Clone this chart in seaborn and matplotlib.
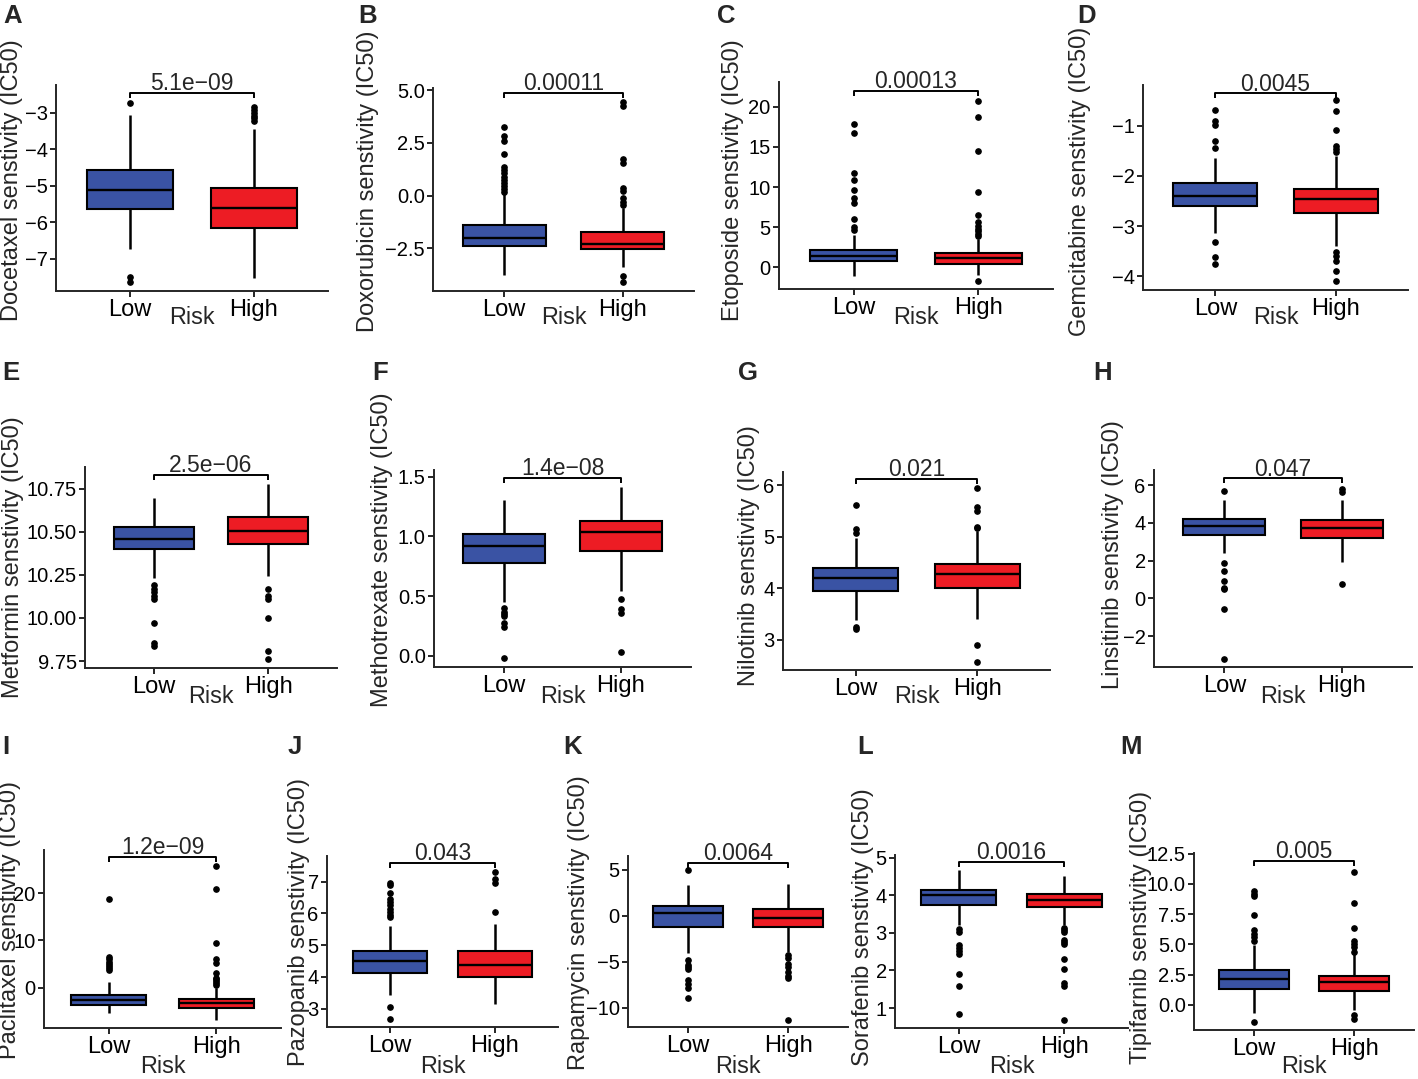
import numpy as np
import pandas as pd
import matplotlib
matplotlib.use("Agg")
import matplotlib.pyplot as plt
import seaborn as sns

# ---- data (IC50 box summaries per risk group) ----
tags = list("ABCDEFGHIJKLM")
drugs = ["Docetaxel", "Doxorubicin", "Etoposide", "Gemcitabine",
         "Metformin", "Methotrexate", "Nilotinib", "Linsitinib",
         "Paclitaxel", "Pazopanib", "Rapamycin", "Sorafenib", "Tipifarnib"]
p_values = ["5.1e\u221209", "0.00011", "0.00013", "0.0045",
            "2.5e\u221206", "1.4e\u221208", "0.021", "0.047",
            "1.2e\u221209", "0.043", "0.0064", "0.0016", "0.005"]

low_whislo = [-6.73, -3.77, -1.03, -3.15, 10.23, 0.45, 3.38, 2.39, -5.44, 3.42, -4.1, 3.2, -0.69]
low_q1 = [-5.64, -2.39, 0.83, -2.61, 10.398, 0.777, 3.955, 3.35, -3.67, 4.13, -1.2, 3.74, 1.32]
low_med = [-5.13, -2.02, 1.45, -2.40, 10.46, 0.92, 4.19, 3.84, -2.76, 4.49, 0.33, 4.0, 2.15]
low_q3 = [-4.56, -1.39, 2.2, -2.15, 10.525, 1.022, 4.39, 4.2, -1.55, 4.81, 1.09, 4.14, 2.86]
low_whishi = [-3.05, 0.05, 4.06, -1.65, 10.698, 1.305, 4.97, 5.2, 1.27, 5.59, 3.35, 4.67, 4.97]
low_outliers = [
    [-2.72, -7.51, -7.65],
    [0.15, 0.3, 0.45, 0.6, 0.75, 0.9, 1.05, 1.2, 1.35, 1.95, 2.6, 2.8, 3.25],
    [4.7, 5.0, 6.0, 8.0, 8.6, 9.7, 10.9, 11.8, 16.8, 17.9],
    [-0.68, -0.91, -0.98, -1.31, -1.44, -3.33, -3.62, -3.75],
    [10.19, 10.17, 10.15, 10.13, 10.11, 9.97, 9.855, 9.835],
    [0.40, 0.37, 0.35, 0.33, 0.27, 0.24, -0.02],
    [5.61, 5.16, 5.07, 3.25, 3.2],
    [5.7, 1.9, 1.47, 0.94, 0.53, 0.48, -0.58, -3.22],
    [3.8, 4.2, 4.6, 5.0, 5.5, 6.0, 6.5, 18.7],
    [5.88, 5.95, 6.05, 6.15, 6.25, 6.35, 6.45, 6.65, 6.9, 6.97, 3.05, 2.66],
    [4.98, -4.76, -5.4, -5.6, -5.75, -7.0, -7.4, -7.9, -8.95],
    [3.09, 3.03, 2.68, 2.6, 2.52, 2.45, 1.91, 1.6, 0.83],
    [5.3, 5.6, 5.9, 6.2, 7.4, 9.0, 9.2, 9.4, -1.38],
]

high_whislo = [-7.52, -3.4, -0.9, -3.4, 10.245, 0.54, 3.41, 1.95, -6.86, 3.14, -3.93, 3.2, -0.41]
high_q1 = [-6.16, -2.55, 0.46, -2.74, 10.429, 0.881, 4.01, 3.18, -4.38, 4.0, -1.2, 3.7, 1.19]
high_med = [-5.62, -2.31, 1.16, -2.47, 10.504, 1.04, 4.27, 3.72, -3.32, 4.36, -0.22, 3.88, 1.9]
high_q3 = [-5.06, -1.75, 1.8, -2.27, 10.587, 1.132, 4.47, 4.14, -2.47, 4.8, 0.73, 4.04, 2.43]
high_whishi = [-3.45, -0.6, 3.5, -1.6, 10.775, 1.416, 5.12, 5.2, -0.2, 5.67, 3.45, 4.5, 4.2]
high_outliers = [
    [-2.85, -2.92, -3.0, -3.08, -3.15, -3.22],
    [-0.45, -0.3, -0.1, 0.2, 0.35, 1.55, 1.75, 4.25, 4.45, -3.8, -4.1],
    [3.9, 4.2, 4.5, 4.8, 5.2, 5.6, 6.5, 9.4, 14.5, 18.8, 20.7, -1.65],
    [-0.49, -0.71, -1.09, -1.41, -1.47, -1.53, -3.52, -3.6, -3.69, -3.9, -4.09],
    [10.165, 10.127, 10.11, 10.0, 9.81, 9.76],
    [0.476, 0.39, 0.36, 0.03],
    [5.18, 5.2, 5.5, 5.58, 5.94, 2.89, 2.56],
    [5.82, 5.62, 0.76],
    [0.6, 0.9, 1.3, 1.7, 2.0, 3.0, 5.2, 6.0, 9.4, 21.0, 25.8],
    [6.05, 6.95, 7.1, 7.3],
    [-4.3, -4.6, -5.3, -5.6, -6.1, -6.5, -6.8, -11.3],
    [3.14, 3.08, 3.03, 2.8, 2.75, 2.7, 2.3, 2.05, 1.66, 1.6, 0.68],
    [4.4, 4.8, 5.0, 5.3, 6.4, 8.4, 11.0, -0.83, -1.19],
]

bracket_y = [-2.47, 4.87, 22.0, -0.35, 10.827, 1.486, 6.13, 6.35, 27.8, 7.58, 5.7, 4.88, 11.87]

y_limits = [(-7.89, -2.24), (-4.53, 5.1), (-2.7, 23.1), (-4.28, -0.18),
            (9.71, 10.875), (-0.095, 1.556), (2.41, 6.26), (-3.63, 6.8),
            (-8.6, 29.2), (2.42, 7.81), (-12.1, 6.5), (0.47, 5.07), (-2.07, 12.56)]
y_ticks = [[-7, -6, -5, -4, -3], [-2.5, 0, 2.5, 5], [0, 5, 10, 15, 20], [-4, -3, -2, -1],
           [9.75, 10.0, 10.25, 10.5, 10.75], [0, 0.5, 1.0, 1.5], [3, 4, 5, 6], [-2, 0, 2, 4, 6],
           [0, 10, 20], [3, 4, 5, 6, 7], [-10, -5, 0, 5], [1, 2, 3, 4, 5],
           [0, 2.5, 5, 7.5, 10, 12.5]]
y_ticklabels = [["\u22127", "\u22126", "\u22125", "\u22124", "\u22123"],
                ["\u22122.5", "0.0", "2.5", "5.0"],
                ["0", "5", "10", "15", "20"],
                ["\u22124", "\u22123", "\u22122", "\u22121"],
                ["9.75", "10.00", "10.25", "10.50", "10.75"],
                ["0.0", "0.5", "1.0", "1.5"],
                ["3", "4", "5", "6"],
                ["\u22122", "0", "2", "4", "6"],
                ["0", "10", "20"],
                ["3", "4", "5", "6", "7"],
                ["\u221210", "\u22125", "0", "5"],
                ["1", "2", "3", "4", "5"],
                ["0.0", "2.5", "5.0", "7.5", "10.0", "12.5"]]

groups = ["Low", "High"]
colors = {"Low": "#3A53A4", "High": "#ED1C24"}

# ---- layout (pixels in a 1418 x 1079 canvas) ----
W, H = 1418, 1079
axes_px = [(56, 328, 85, 291), (433, 694, 88, 291), (779, 1053, 82, 289), (1143, 1408, 85, 290),
           (85, 337, 467, 668), (434, 691, 470, 667), (783, 1050, 472, 670), (1154, 1412, 470, 667),
           (44, 281, 850, 1028), (327, 558, 856, 1027), (628, 848, 856, 1027), (895, 1128, 855, 1028),
           (1194, 1414, 853, 1030)]
ylabel_px = [(12, 180), (368, 181), (733, 180), (1080, 181),
             (13, 557), (382, 550), (749, 556), (1113, 555),
             (10, 920), (299, 922), (579, 923), (863, 927), (1141, 927)]
tag_px = [(3, 4), (358, 4), (717, 4), (1077, 4),
          (2, 361), (372, 361), (738, 361), (1093, 361),
          (2, 735), (288, 735), (563, 735), (857, 735), (1120, 735)]
risk_top = [306] * 4 + [685] * 4 + [1055] * 5

sns.set_style("ticks")
plt.rcParams["font.family"] = ["Liberation Sans", "DejaVu Sans"]
plt.rcParams["axes.linewidth"] = 1.4


def group_values(whislo, q1, med, q3, whishi, outliers, k=40):
    # sample whose quartiles / whisker ends reproduce the box
    return [whislo] + [q1] * k + [med] * k + [q3] * k + [whishi] + list(outliers)


fig = plt.figure(figsize=(W / 100, H / 100), dpi=100)

for i, drug in enumerate(drugs):
    l, r, t, b = axes_px[i]
    ax = fig.add_axes([l / W, 1 - b / H, (r - l) / W, (b - t) / H])

    low = group_values(low_whislo[i], low_q1[i], low_med[i], low_q3[i], low_whishi[i], low_outliers[i])
    high = group_values(high_whislo[i], high_q1[i], high_med[i], high_q3[i], high_whishi[i], high_outliers[i])
    df = pd.DataFrame({"Risk": ["Low"] * len(low) + ["High"] * len(high),
                       "value": low + high})

    sns.boxplot(data=df, x="Risk", y="value", hue="Risk", order=groups, hue_order=groups,
                palette=colors, saturation=1, width=0.7, linewidth=1.5, linecolor="black",
                showcaps=False, fliersize=3.8, legend=False, ax=ax,
                flierprops=dict(marker="o", markerfacecolor="black", markeredgecolor="black"),
                medianprops=dict(color="black", linewidth=1.7),
                whiskerprops=dict(color="black", linewidth=1.8))

    ax.set_xlim(-0.6, 1.6)
    ax.set_ylim(*y_limits[i])
    ax.set_yticks(y_ticks[i])
    ax.set_yticklabels(y_ticklabels[i])
    ax.tick_params(axis="y", labelsize=14.5, length=4, width=1.2, pad=2, colors="black")
    ax.tick_params(axis="x", labelsize=17, length=4, width=1.2, pad=1.5, colors="black")
    sns.despine(ax=ax)

    # significance bracket with p-value
    y0, y1 = y_limits[i]
    drop = (y1 - y0) * 5 / (b - t)
    yb = bracket_y[i]
    ax.plot([0, 0, 1, 1], [yb - drop, yb, yb, yb - drop], color="black", lw=1.4,
            solid_capstyle="butt", clip_on=False)
    ax.annotate(p_values[i], xy=(0.5, yb), xytext=(0, -1.5), textcoords="offset points",
                ha="center", va="bottom", fontsize=16.5)

    ax.set_ylabel(f"{drug} senstivity (IC50)", fontsize=17, va="center")
    ax.yaxis.set_label_coords(ylabel_px[i][0] / W, 1 - ylabel_px[i][1] / H, transform=fig.transFigure)
    ax.set_xlabel("Risk", fontsize=16.8, va="top")
    ax.xaxis.set_label_coords(((l + r) / 2) / W, 1 - risk_top[i] / H, transform=fig.transFigure)

    fig.text(tag_px[i][0] / W, 1 - tag_px[i][1] / H, tags[i], fontsize=18.5,
             fontweight="bold", ha="left", va="top")

fig.savefig("out.png", dpi=100, facecolor="white")
